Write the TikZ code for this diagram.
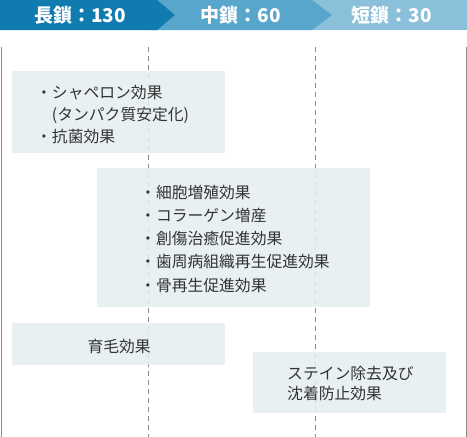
\documentclass[tikz,border=0pt]{standalone}
\usepackage{fontspec}
\setmainfont{Noto Sans CJK JP}
\definecolor{longc}{HTML}{0F7BAF}
\definecolor{midc}{HTML}{58A6CB}
\definecolor{shortc}{HTML}{8BC0DA}
\definecolor{boxc}{HTML}{E4EDEF}
\definecolor{txtc}{HTML}{333333}
\definecolor{rulec}{HTML}{8A8A8A}

\begin{document}
\begin{tikzpicture}[x=1pt,y=-1pt,
    head/.style={text=white,font=\fontsize{19}{22}\selectfont\bfseries,inner sep=0pt},
    effbox/.style={fill=boxc,fill opacity=.85,inner sep=0pt,anchor=north west},
    efftxt/.style={text=txtc,inner sep=0pt,align=left,anchor=west,font=\fontsize{15.8}{23.3}\selectfont},
    rule/.style={rulec,line width=1pt}]
    \useasboundingbox (0,0) rectangle (467,437);
    % header arrows
    \fill[shortc] (300,0) rectangle (467,30);
    \fill[midc] (150,0) -- (312,0) -- (332,15) -- (312,30) -- (150,30) -- cycle;
    \fill[longc] (0,0) -- (157,0) -- (175,15) -- (157,30) -- (0,30) -- cycle;
    \path (80,15) node[head](long){長鎖：130}
      (241,15) node[head](mid){中鎖：60}
      (392,15) node[head](short){短鎖：30};
    % guide lines
    \coordinate (l0) at (1,47);  \coordinate (l1) at (1,437);
    \coordinate (r0) at (466,47); \coordinate (r1) at (466,437);
    \coordinate (m0) at (148,47); \coordinate (m1) at (148,437);
    \coordinate (s0) at (315,47); \coordinate (s1) at (315,437);
    \draw[rule] (l0) -- (l1) (r0) -- (r1);
    \draw[rulec,line width=.8pt,dash pattern=on 5pt off 4pt] (m0) -- (m1) (s0) -- (s1);
    % effect boxes
    \path (12,71) node[effbox,minimum width=213,minimum height=82](chap){}
      (97,168) node[effbox,minimum width=273,minimum height=139](cell){}
      (12,323) node[effbox,minimum width=213,minimum height=42](hair){}
      (253,352) node[effbox,minimum width=193,minimum height=61](stain){};
    \path (chap.west) +(24,2) node[efftxt,font=\fontsize{15.8}{22}\selectfont](chapt)
        {・シャペロン効果\\\hspace*{1em}(タンパク質安定化)\\・抗菌効果}
      (cell.west) +(43,1) node[efftxt](cellt)
        {・細胞増殖効果\\・コラーゲン増産\\・創傷治癒促進効果\\・歯周病組織再生促進効果\\・骨再生促進効果}
      (hair.center) +(0.5,2) node[efftxt,anchor=center](hairt){育毛効果}
      (stain.west) +(34,0.5) node[efftxt,font=\fontsize{15.8}{20}\selectfont](staint)
        {ステイン除去及び\\沈着防止効果};
\end{tikzpicture}
\end{document}
